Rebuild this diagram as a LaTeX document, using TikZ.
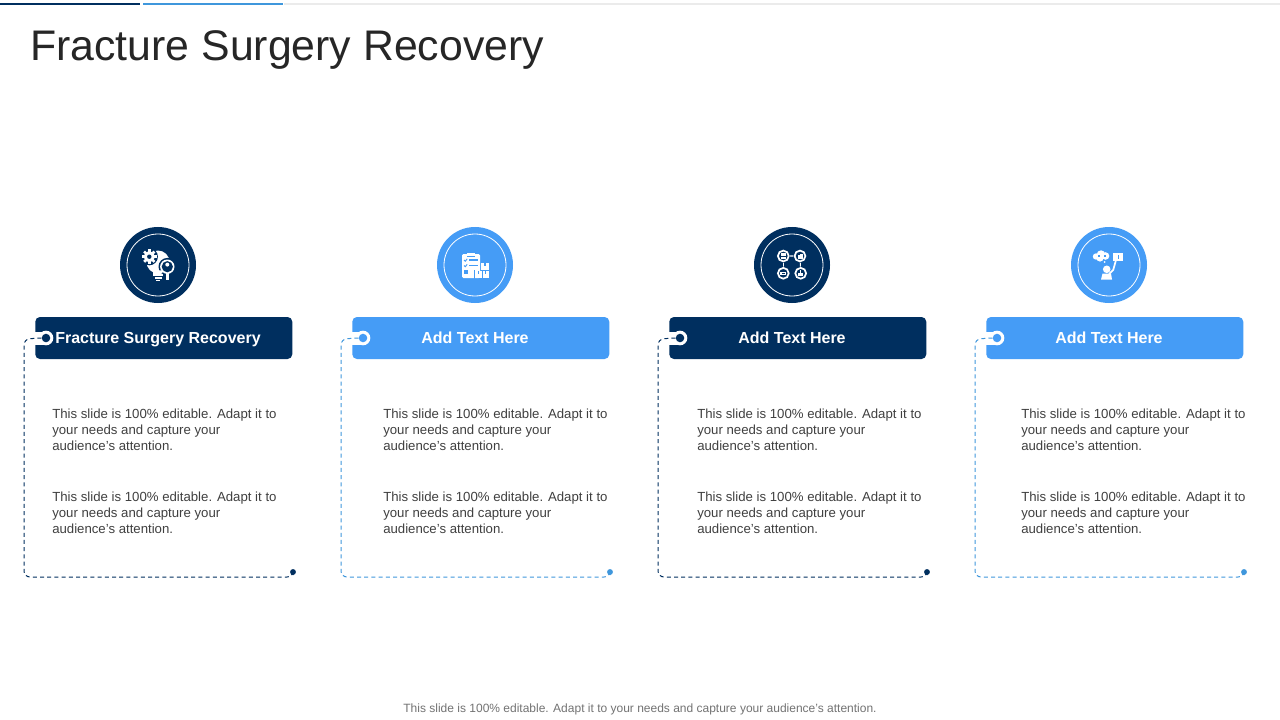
\documentclass[tikz,border=0pt]{standalone}
\usepackage{fontspec}
\setmainfont{Liberation Sans}
\definecolor{navy}{HTML}{002F5F}
\definecolor{sky}{HTML}{459CF6}
\definecolor{skyline}{HTML}{3F97DC}
\definecolor{bodytext}{HTML}{404040}
\definecolor{titletext}{HTML}{262626}
\tikzset{
  x=0.75pt,y=-0.75pt,
  disc/.style={circle,inner sep=0pt,minimum size=57pt,fill=#1},
  ring/.style={circle,inner sep=0pt,minimum size=46.5pt,draw=white,line width=0.6pt},
  banner/.style={rectangle,rounded corners=3.5pt,inner sep=0pt,minimum width=192.75pt,minimum height=31.5pt,fill=#1},
  headtext/.style={anchor=base,inner sep=0pt,text=white,font=\fontsize{12pt}{14pt}\selectfont\bfseries},
  bodynote/.style={anchor=north west,inner sep=0pt,align=left,text=bodytext,font=\fontsize{9.9pt}{12pt}\selectfont},
  tab/.style={circle,inner sep=0pt,minimum size=11pt,fill=white},
  tabdot/.style={circle,inner sep=0pt,minimum size=6.4pt,fill=#1},
  enddot/.style={circle,inner sep=0pt,minimum size=4.4pt,fill=#1},
  framepath/.style={draw=#1,line width=0.75pt,dash pattern=on 3pt off 2.4pt,rounded corners=4.5pt},
}
\newcommand{\cardset}[7]{%
  % #1 name, #2 box left, #3 colour, #4 title, #5 text left, #6 circle centre, #7 line colour
  \node[banner=#3,anchor=west] (#1box) at (#2,338) {};
  \node[disc=#3] (#1disc) at (#6,265) {};
  \node[ring] (#1ring) at (#6,265) {};
  \node[headtext] (#1title) at (#6,343) {#4};
  \fill[white] (#2-1,331.5) rectangle (#2+11,344.5);
  \node[tab] (#1tab) at (#2+11,338) {};
  \node[tabdot=#3] (#1dot) at (#2+11,338) {};
  \node[enddot=#7] (#1end) at (#2+258,572) {};
  \coordinate (#1a) at (#2-11,339);
  \coordinate (#1b) at (#2-11,577);
  \coordinate (#1c) at (#2+258,577);
  \draw[framepath=#7] (#1dot.west) -- (#1a) -- (#1b) -- (#1c) -- (#1end.south);
  \node[bodynote] (#1noteA) at (#5,409) {This slide is 100\% editable. Adapt it to\\your needs and capture your\\audience's attention.};
  \node[bodynote] (#1noteB) at (#5,492) {This slide is 100\% editable. Adapt it to\\your needs and capture your\\audience's attention.};
}
\begin{document}
\begin{tikzpicture}
\useasboundingbox (0,0) rectangle (1280,720);
\fill[white] (0,0) rectangle (1280,720);
% top rule
\fill[black!8] (284,2.8) rectangle (1280,4.6);
\fill[navy] (0,2.8) rectangle (140,4.6);
\fill[skyline] (143,2.8) rectangle (283,4.6);
\node[anchor=west,inner sep=0pt,text=titletext,font=\fontsize{32.1pt}{38pt}\selectfont] (heading) at (30,50.5) {Fracture Surgery Recovery};

\cardset{one}{35}{navy}{Fracture Surgery Recovery}{52}{158}{navy}
\cardset{two}{352}{sky}{Add Text Here}{383}{475}{skyline}
\cardset{three}{669}{navy}{Add Text Here}{697}{792}{navy}
\cardset{four}{986}{sky}{Add Text Here}{1021}{1109}{skyline}

\node[anchor=center,inner sep=0pt,text=black!55,font=\fontsize{9pt}{12pt}\selectfont] (foot) at (640,709) {This slide is 100\% editable. Adapt it to your needs and capture your audience's attention.};

% icon 1: bulb, gear, magnifier
\begin{scope}
\fill[white] (158,262) circle (11.5);
\fill[white] (153,270) rectangle (163,276);
\fill[white] (154.5,277) rectangle (161.5,278.6);
\fill[white] (156,279.6) rectangle (160,281);
\fill[navy] (149.3,256.7) circle (8.6);
\foreach \a in {0,45,...,315}{\fill[white,rotate around={\a:(149.3,256.7)}] (148,249.4) rectangle (150.6,252);}
\fill[white] (149.3,256.7) circle (5.6);
\fill[navy] (149.3,256.7) circle (2.2);
\fill[navy] (167.3,266.7) circle (8.8);
\fill[white] (167.3,266.7) circle (7.2);
\fill[navy] (167.3,266.7) circle (5.6);
\fill[white] (167.3,264.6) circle (2);
\fill[white] (163.6,270.4) arc (180:360:-3.7 and -3) -- cycle;
\fill[white] (165.8,273) rectangle (168.8,280);
\end{scope}
% icon 2: clipboard and boxes
\begin{scope}
\fill[white,rounded corners=1pt] (462,254) rectangle (480,278);
\fill[white] (467,252.5) rectangle (475,256);
\fill[sky] (467,256.4) rectangle (475,257);
\foreach \y in {260,265.5}{
  \draw[sky,line width=0.7pt] (464,\y) -- (465.3,\y+1.2) -- (467.2,\y-1.2);
  \fill[sky] (469,\y-0.6) rectangle (477.5,\y+0.8);
}
\fill[sky] (464,270) rectangle (468,274);
\fill[white] (481,263) rectangle (489,270);
\fill[white] (475,271) rectangle (482,278);
\fill[white] (482.5,271) rectangle (489,278);
\fill[sky] (484.3,263) rectangle (485.7,266);
\fill[sky] (478,271) rectangle (479,274);
\fill[sky] (485,271) rectangle (486,274);
\fill[sky] (474.2,270) rectangle (475,278.5);
\end{scope}
% icon 3: four linked circles
\begin{scope}
\draw[white,line width=0.8pt] (783.3,256) -- (800,256) -- (800.7,273.3);
\draw[white,line width=0.8pt] (783.3,256) -- (783.3,273.3);
\foreach \p in {(783.3,256),(800,256),(783.3,273.3),(800.7,273.3)}{
  \fill[navy] \p circle (6.8);
  \draw[white,line width=1.3pt] \p circle (5.4);
}
\fill[white] (780.6,253.4) -- (786,253.4) -- (786,258.6) -- (780.6,258.6) -- cycle;
\fill[navy] (780.6,255.6) rectangle (786,256.4);
\fill[white] (797.5,253.5) rectangle (802.5,258.5);
\fill[navy] (797.5,253.5) rectangle (800,255.2);
\fill[white] (780.4,271.6) rectangle (786.2,275.4);
\fill[navy] (782,273.1) rectangle (784.6,273.7);
\fill[white] (798,272.6) rectangle (803.4,276);
\fill[white] (799.6,269.8) rectangle (801.2,273);
\end{scope}
% icon 4: person with thought cloud and sign
\begin{scope}
\fill[white] (1096,256.5) circle (3.2);
\fill[white] (1101,254.6) circle (4.3);
\fill[white] (1105.5,256) circle (3.8);
\fill[white] (1100,258) circle (3.6);
\fill[sky] (1098,255) rectangle (1100.4,257);
\fill[sky] (1103.5,254.5) rectangle (1105.5,256.5);
\fill[white] (1104.5,262) circle (1);
\fill[white] (1113,253) rectangle (1123,260.5);
\fill[sky] (1117.6,254.5) rectangle (1118.6,258.8);
\fill[white] (1106.7,269.3) circle (3.8);
\draw[white,line width=1.3pt] (1116,260) -- (1113.2,270) -- (1109,274);
\fill[white] (1102.5,273.5) -- (1111,273.5) -- (1112,279.5) -- (1101,279.5) -- cycle;
\end{scope}
\end{tikzpicture}
\end{document}
